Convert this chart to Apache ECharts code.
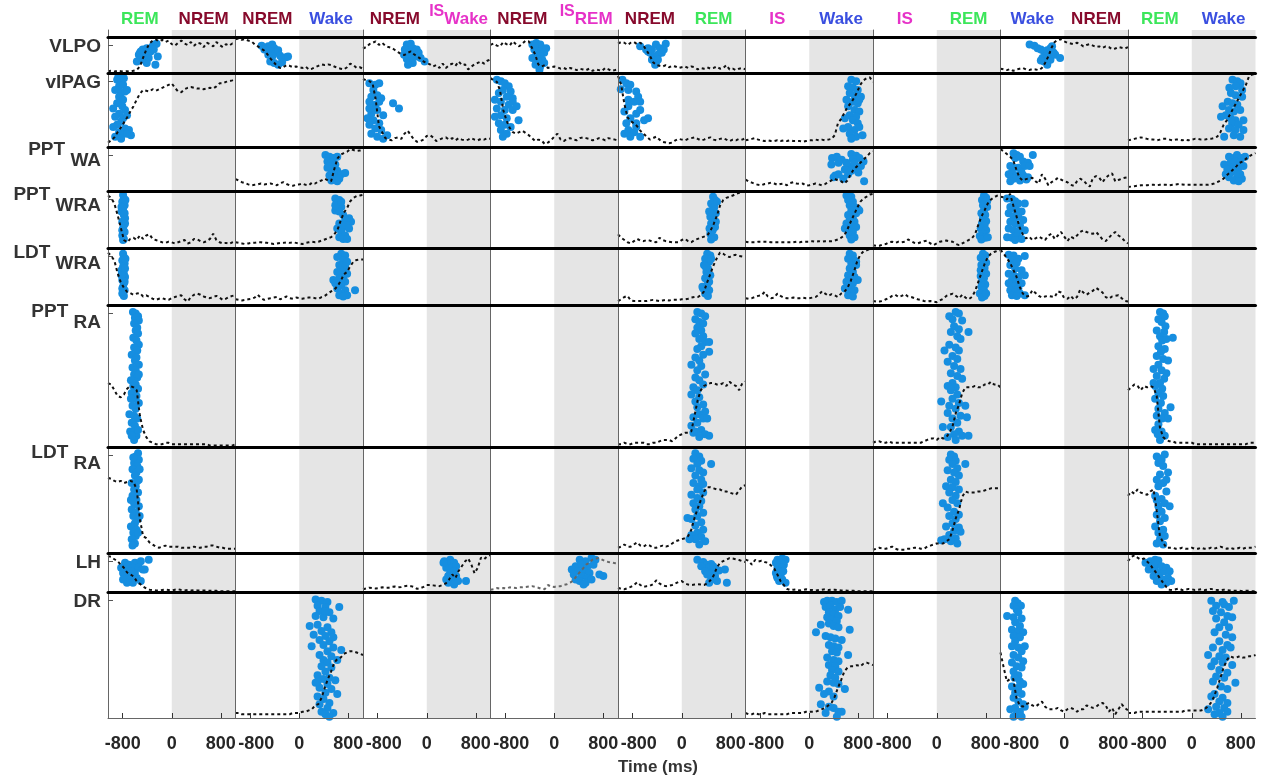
<!DOCTYPE html>
<html><head><meta charset="utf-8">
<script src="https://cdn.jsdelivr.net/npm/echarts@6/dist/echarts.min.js"></script>
<style>html,body{margin:0;padding:0;background:#fff}#c{width:1261px;height:778px}</style>
</head><body><div id="c"></div>
<script>
// ---------------- DATA ----------------
const TIME = [-1040,-988,-936,-884,-832,-780,-728,-676,-624,-572,-520,-468,-416,-364,-312,-260,-208,-156,-104,-52,0,52,104,156,208,260,312,364,416,468,520,572,624,676,728,780,832,884,936,988,1040];
const X_TICKS = [-800, 0, 800];
const ROW_NAMES = ['VLPO','vlPAG','PPTWA','PPTWRA','LDTWRA','PPTRA','LDTRA','LH','DR'];
const ROW_MAIN = ['VLPO','vlPAG','PPT','PPT','LDT','PPT','LDT','LH','DR'];
const ROW_SUB  = ['','','WA','WRA','WRA','RA','RA','',''];
const HEAD_LEFT  = ['REM','NREM','NREM','NREM','NREM','IS','IS','Wake','REM'];
const HEAD_RIGHT = ['NREM','Wake','Wake','REM','REM','Wake','REM','NREM','Wake'];
const HEAD_SUP   = ['','','IS','IS','','','','',''];

const L_VLPO_1 = [5,6,4,6,5,4,5,4,6,8,18,42,65,82,90,93,88,92,86,90,80,76,84,90,82,78,86,76,84,82,72,84,80,74,86,78,72,80,76,82,80];
const P_VLPO_1 = [[-569,32],[-537,51],[-505,60],[-473,65],[-441,46],[-408,69],[-376,42],[-344,60],[-312,74],[-280,79],[-248,81],[-293,65],[-267,23],[-408,28],[-228,46],[-486,37],[-460,56],[-518,56]];
const L_VLPO_2 = [94,96,92,94,90,88,80,74,68,62,52,40,30,20,14,16,22,20,16,18,16,14,18,10,12,16,20,24,22,24,22,18,14,12,10,16,26,22,14,16,12];
const P_VLPO_2 = [[-614,76],[-505,74],[-441,79],[-408,69],[-473,60],[-376,56],[-344,63],[-312,48],[-280,42],[-216,44],[-183,46],[-441,46],[-473,32],[-408,28],[-344,23],[-280,30],[-505,51],[-569,65]];
const L_VLPO_3 = [68,72,80,84,88,78,84,76,72,70,64,58,52,50,56,60,52,46,40,32,28,24,18,22,14,26,14,22,26,20,32,22,24,10,18,24,28,32,26,34,38];
const P_VLPO_3 = [[-325,79],[-261,81],[-293,74],[-228,69],[-357,65],[-196,60],[-164,65],[-293,56],[-370,51],[-325,39],[-261,32],[-228,28],[-306,23],[-100,42],[-35,32],[-164,46],[-241,48],[-132,56]];
const L_VLPO_4 = [78,82,76,74,86,80,76,88,80,74,82,90,88,70,52,24,18,22,14,16,18,16,12,14,10,14,12,8,12,10,8,12,6,10,8,6,14,10,6,8,10];
const P_VLPO_4 = [[-357,79],[-293,83],[-228,79],[-196,69],[-325,65],[-261,60],[-164,56],[-293,51],[-228,46],[-357,42],[-196,37],[-261,32],[-164,28],[-228,19],[-325,74],[-132,69],[-241,9],[-306,23]];
const L_VLPO_5 = [82,86,84,78,84,86,80,84,76,62,48,30,22,20,18,22,16,20,18,14,16,18,14,18,16,10,14,12,16,12,14,18,12,14,22,10,12,8,12,14,10];
const P_VLPO_5 = [[-679,74],[-550,69],[-486,65],[-421,79],[-261,81],[-357,69],[-518,56],[-453,46],[-389,51],[-325,56],[-486,37],[-421,28],[-550,60],[-389,37],[-293,65],[-582,65],[-434,23]];
const L_VLPO_8 = [12,10,8,11,6,10,12,14,10,8,11,10,8,14,28,46,70,86,92,94,88,84,82,80,84,80,74,78,80,76,72,74,70,74,72,66,68,72,70,68,72];
const P_VLPO_8 = [[-565,79],[-487,76],[-435,69],[-382,65],[-330,60],[-277,63],[-225,69],[-199,74],[-173,56],[-251,51],[-304,46],[-356,42],[-330,32],[-277,28],[-225,37],[-147,51],[-68,42],[-382,35],[-199,60],[-277,23]];

const L_vlPAG_1 = [6,9,13,20,26,33,40,48,55,64,72,77,76,75,78,76,78,80,82,84,86,80,75,74,78,80,81,80,79,79,78,79,80,79,82,86,86,88,89,90,92];
const P_vlPAG_1 = [[-891,91],[-826,89],[-859,82],[-794,84],[-923,77],[-826,73],[-762,75],[-859,68],[-794,64],[-730,77],[-891,59],[-807,55],[-955,52],[-762,50],[-859,45],[-923,41],[-794,39],[-730,43],[-826,34],[-891,30],[-955,27],[-762,25],[-698,23],[-859,20],[-794,18],[-666,16],[-923,14],[-826,11],[-730,18],[-871,95],[-781,93]];
const L_vlPAG_3 = [92,90,89,86,64,28,20,12,10,9,12,13,11,18,22,16,10,7,8,10,15,16,13,8,10,12,13,10,12,9,12,10,9,10,12,10,9,11,10,12,11];
const P_vlPAG_3 = [[-936,86],[-839,84],[-775,86],[-871,77],[-807,70],[-904,68],[-743,66],[-936,61],[-839,57],[-550,59],[-453,52],[-807,50],[-904,45],[-711,43],[-968,39],[-871,36],[-775,32],[-936,30],[-839,25],[-743,23],[-904,18],[-807,14],[-711,11],[-646,16],[-871,50],[-775,61],[-936,52]];
const L_vlPAG_4 = [93,90,88,76,50,36,26,20,18,20,22,19,16,12,8,10,9,4,6,9,14,18,10,8,11,12,10,9,12,13,12,11,9,10,12,11,9,12,11,10,9];
const P_vlPAG_4 = [[-936,91],[-871,89],[-807,86],[-743,82],[-839,77],[-711,75],[-904,73],[-775,68],[-678,66],[-871,61],[-743,57],[-936,52],[-807,50],[-678,50],[-871,43],[-968,41],[-775,39],[-582,36],[-904,32],[-807,30],[-711,27],[-871,23],[-775,18],[-839,14],[-968,64],[-678,61],[-614,55]];
const L_vlPAG_5 = [96,84,58,40,35,32,28,22,18,14,10,12,14,10,7,6,5,6,9,11,10,9,11,12,13,11,9,10,12,13,10,9,11,12,10,8,10,9,11,10,12];
const P_vlPAG_5 = [[-968,91],[-904,86],[-839,84],[-871,77],[-995,78],[-743,75],[-711,68],[-871,64],[-775,61],[-678,61],[-871,55],[-936,48],[-743,45],[-678,50],[-839,39],[-904,32],[-743,32],[-614,36],[-550,39],[-871,23],[-775,20],[-678,14],[-839,14],[-936,18],[-743,27]];
const L_vlPAG_6 = [9,10,11,12,10,9,8,9,8,8,9,8,9,8,9,8,8,8,7,8,9,9,10,9,10,9,10,11,16,32,38,46,54,59,66,74,84,90,93,94,88];
const P_vlPAG_6 = [[686,91],[765,89],[634,82],[712,80],[791,77],[660,73],[738,70],[843,68],[607,64],[712,61],[791,59],[634,55],[738,50],[817,48],[660,43],[765,41],[581,39],[712,36],[791,32],[634,27],[555,25],[738,23],[817,27],[660,18],[765,14],[869,16],[686,11],[817,64]];
const L_vlPAG_9 = [9,10,11,12,13,12,11,10,10,9,10,11,11,10,9,10,10,9,10,9,10,11,11,10,10,11,11,12,14,20,30,36,44,52,60,68,76,84,96,98,99];
const P_vlPAG_9 = [[665,91],[743,89],[796,86],[717,82],[613,80],[822,77],[639,73],[717,70],[822,68],[587,61],[665,59],[743,57],[503,55],[608,50],[686,48],[791,50],[555,43],[634,39],[712,36],[843,36],[660,32],[764,30],[608,25],[712,23],[843,23],[529,14],[686,16],[791,14],[477,41]];

const L_PPTWA_2 = [27,24,20,18,15,13,14,15,17,15,16,17,15,13,18,20,16,13,12,14,15,17,14,13,19,17,22,24,28,24,22,50,74,83,86,89,95,93,91,92,93];
const P_PPTWA_2 = [[427,82],[492,78],[556,75],[620,78],[460,67],[524,64],[588,60],[460,53],[524,49],[620,46],[556,42],[685,38],[749,41],[492,35],[588,31],[653,28],[524,24],[620,22],[479,57]];
const L_PPTWA_6 = [26,22,19,16,14,13,16,17,19,17,14,16,17,13,18,20,17,16,17,12,13,15,17,15,13,16,20,24,28,24,22,17,24,38,50,56,64,71,78,86,90];
const P_PPTWA_6 = [[372,75],[450,78],[361,60],[477,64],[529,71],[686,84],[765,80],[817,75],[712,72],[634,57],[738,53],[581,49],[686,46],[843,57],[885,67],[801,42],[634,38],[424,35],[477,38],[398,31],[555,28],[895,22],[607,64],[738,64]];
const L_PPTWA_8 = [95,90,84,78,70,48,30,24,27,29,30,22,17,38,28,13,20,24,30,26,22,20,14,12,22,28,24,16,10,30,34,30,20,30,36,40,22,25,28,30,31];
const P_PPTWA_8 = [[-827,86],[-775,82],[-801,75],[-723,78],[-670,67],[-592,64],[-513,82],[-880,57],[-827,53],[-749,53],[-644,57],[-696,42],[-853,42],[-906,38],[-775,35],[-670,35],[-592,31],[-827,28],[-723,24],[-618,26],[-880,22],[-565,57]];
const L_PPTWA_9 = [9,10,11,12,13,13,13,14,14,13,14,14,14,13,14,15,16,15,14,14,14,14,14,14,14,14,15,17,20,24,28,36,42,49,56,64,67,73,79,83,86];
const P_PPTWA_9 = [[608,78],[686,75],[738,82],[817,75],[869,78],[529,60],[634,64],[712,67],[791,64],[660,53],[765,53],[843,57],[555,38],[634,42],[712,46],[791,38],[608,31],[738,31],[817,28],[686,24],[765,22],[581,49]];

const L_PPTWRA_1 = [92,88,78,58,36,14,10,16,18,14,22,16,22,24,16,14,12,10,9,11,10,8,10,12,14,8,10,16,15,12,10,12,16,25,14,10,8,9,7,10,12];
const P_PPTWRA_1 = [[-794,93],[-781,87],[-807,81],[-769,75],[-794,69],[-820,64],[-781,58],[-762,52],[-807,46],[-781,40],[-794,34],[-769,28],[-807,22],[-781,16],[-794,14],[-756,84],[-820,72],[-769,61],[-807,31],[-762,43]];
const L_PPTWRA_2 = [10,9,8,7,8,9,9,10,10,9,9,8,7,8,9,9,10,9,10,9,8,7,9,10,11,10,11,13,15,17,19,24,32,48,62,70,82,88,91,92,93];
const P_PPTWRA_2 = [[588,87],[653,84],[620,78],[685,72],[588,66],[653,64],[717,58],[813,52],[749,49],[845,46],[653,43],[781,40],[717,37],[620,34],[813,34],[685,28],[749,22],[653,19],[717,16],[781,16],[588,75],[685,81]];
const L_PPTWRA_5 = [24,18,14,10,8,12,16,13,12,14,13,11,10,18,14,12,11,10,10,10,14,16,12,10,14,16,18,20,22,30,42,56,74,84,88,90,92,95,97,99,99];
const P_PPTWRA_5 = [[511,90],[543,84],[479,78],[530,72],[492,66],[556,61],[466,55],[517,49],[479,43],[543,37],[505,31],[466,25],[530,19],[479,15],[575,81],[447,64],[556,46],[453,34]];
const L_PPTWRA_6 = [11,10,10,10,11,11,11,11,10,10,10,10,10,10,10,10,11,10,11,11,11,12,11,12,11,12,12,12,13,15,18,22,33,46,58,70,81,87,90,94,95];
const P_PPTWRA_6 = [[607,92],[686,90],[634,84],[712,81],[660,75],[738,72],[791,69],[686,66],[765,61],[634,58],[712,55],[660,49],[738,46],[607,43],[686,40],[765,37],[634,31],[712,28],[581,34],[660,22],[738,19],[686,15],[817,66]];
const L_PPTWRA_7 = [5,4,4,6,7,10,11,9,11,10,11,15,12,9,8,10,12,13,8,5,8,11,12,13,12,11,7,5,8,11,14,17,24,40,55,66,78,85,89,92,94];
const P_PPTWRA_7 = [[770,92],[806,88],[738,84],[791,80],[754,75],[822,72],[770,66],[728,61],[791,58],[754,52],[806,47],[738,43],[780,39],[717,34],[806,31],[754,25],[702,21],[791,18],[728,15],[833,19],[822,82]];
const L_PPTWRA_8 = [90,89,85,95,75,56,36,24,17,20,14,17,20,17,14,22,25,16,22,28,20,12,20,17,22,28,31,28,26,25,28,22,15,12,18,24,28,22,18,12,8];
const P_PPTWRA_8 = [[-932,87],[-853,86],[-801,82],[-749,78],[-644,78],[-880,72],[-827,69],[-775,66],[-696,64],[-906,61],[-827,55],[-749,55],[-670,49],[-880,46],[-801,43],[-723,40],[-906,34],[-827,31],[-749,28],[-644,31],[-932,19],[-853,18],[-775,21],[-696,16],[-801,14]];

const L_LDTWRA_1 = [92,86,78,56,40,30,23,21,18,20,21,15,17,14,11,9,11,12,10,9,12,14,16,17,10,6,14,18,20,18,15,13,12,14,16,13,9,11,14,16,17];
const P_LDTWRA_1 = [[-794,90],[-781,84],[-807,78],[-769,73],[-794,67],[-820,61],[-781,55],[-762,49],[-807,44],[-781,38],[-794,32],[-769,26],[-807,20],[-781,16],[-756,81],[-820,52],[-769,41],[-807,29],[-762,64],[-794,23]];
const L_LDTWRA_2 = [10,9,8,9,10,11,13,18,12,9,11,12,13,14,10,12,15,12,11,13,12,11,12,13,13,12,11,14,16,20,24,27,33,42,54,58,68,76,79,80,80];
const P_LDTWRA_2 = [[685,90],[749,87],[620,84],[717,78],[781,76],[653,70],[749,67],[685,61],[620,58],[781,55],[717,49],[653,47],[556,44],[749,41],[685,35],[620,29],[749,26],[685,20],[781,17],[910,26],[653,17],[717,15],[588,38]];
const L_LDTWRA_5 = [7,10,14,16,8,7,7,7,7,7,8,9,8,7,8,9,8,9,9,9,10,10,11,13,14,14,17,24,40,55,70,82,92,90,86,84,87,88,86,85,84];
const P_LDTWRA_5 = [[415,90],[466,87],[382,81],[447,76],[363,70],[427,64],[402,58],[466,52],[382,47],[447,41],[415,35],[350,29],[447,26],[382,20],[427,16],[337,32],[479,81],[389,67]];
const L_LDTWRA_6 = [12,11,12,14,16,17,23,15,12,13,20,16,13,12,12,13,12,12,13,12,12,13,14,18,24,20,16,19,17,14,20,23,30,42,58,76,88,94,96,98,99];
const P_LDTWRA_6 = [[660,90],[712,87],[634,81],[738,78],[686,73],[765,70],[660,64],[712,58],[634,52],[738,49],[686,44],[791,44],[607,41],[712,38],[660,32],[581,29],[738,26],[686,22],[634,17],[712,15],[765,76]];
const L_LDTWRA_7 = [7,6,6,7,10,12,16,18,14,16,19,15,14,12,10,9,7,6,7,6,5,8,11,16,18,20,16,12,18,13,10,14,24,40,56,72,84,90,93,95,96];
const P_LDTWRA_7 = [[754,90],[791,87],[717,83],[770,78],[806,74],[728,70],[780,65],[754,59],[806,55],[717,51],[770,47],[738,41],[791,36],[728,32],[770,26],[702,20],[780,16],[738,13],[806,20],[717,61]];
const L_LDTWRA_8 = [97,90,82,74,62,50,32,20,15,16,26,21,16,13,15,16,15,14,24,22,12,11,16,10,14,27,22,18,22,25,30,26,22,14,11,15,16,17,12,7,6];
const P_LDTWRA_8 = [[-906,88],[-827,87],[-749,81],[-644,86],[-853,78],[-775,74],[-880,70],[-801,64],[-696,61],[-906,55],[-827,52],[-749,49],[-644,52],[-853,44],[-775,41],[-906,38],[-696,38],[-827,32],[-749,29],[-880,26],[-801,23],[-723,20],[-853,17],[-775,16],[-644,17]];

const L_PPTRA_1 = [45,44,40,36,35,37,41,43,42,40,22,12,7,4,3,2,2,2,3,3,2,2,2,2,2,2,2,2,2,2,2,2,1,1,1,1,1,1,1,1,2];
const P_PPTRA_1 = [[-633,95],[-588,94],[-550,92],[-601,91],[-537,89],[-614,87],[-563,84],[-588,82],[-550,80],[-627,77],[-576,75],[-537,72],[-614,70],[-563,68],[-653,65],[-576,63],[-601,61],[-537,58],[-640,56],[-588,54],[-614,51],[-563,49],[-666,47],[-588,44],[-627,43],[-550,41],[-653,38],[-576,36],[-614,34],[-537,31],[-640,29],[-588,27],[-691,23],[-614,22],[-563,20],[-653,17],[-601,15],[-678,11],[-627,10],[-576,8],[-614,5],[-653,8],[-550,12],[-666,34],[-537,51]];
const L_PPTRA_5 = [2,2,3,2,2,3,3,3,3,2,2,3,3,4,5,5,5,4,6,8,9,10,10,11,22,33,40,43,44,45,45,44,44,45,43,46,44,43,40,45,46];
const P_PPTRA_5 = [[254,95],[318,94],[382,92],[222,90],[286,88],[350,87],[254,84],[318,82],[222,80],[350,78],[286,76],[382,74],[447,67],[318,71],[254,69],[350,65],[222,63],[286,61],[157,58],[318,57],[254,54],[382,51],[222,49],[286,47],[350,44],[190,42],[254,40],[157,37],[286,35],[222,32],[350,30],[254,28],[382,25],[286,23],[190,21],[350,20],[254,17],[157,15],[318,12],[222,11],[382,9],[286,7],[447,8],[190,10],[415,20],[447,74]];
const L_PPTRA_7 = [3,4,4,3,3,4,3,3,3,3,3,3,3,3,3,3,4,5,6,6,5,7,6,7,10,15,24,30,38,42,42,42,43,42,42,44,44,46,44,44,42];
const P_PPTRA_7 = [[204,92],[309,95],[361,94],[257,90],[414,89],[518,81],[283,85],[361,83],[230,81],[335,78],[388,76],[204,72],[309,70],[361,68],[126,68],[257,64],[335,62],[178,60],[283,57],[388,55],[230,52],[335,50],[414,48],[257,45],[178,43],[309,42],[230,40],[335,37],[73,32],[257,34],[361,31],[204,29],[466,29],[309,27],[178,24],[388,22],[492,21],[257,20],[335,17],[100,14],[230,14],[361,11],[283,9],[414,8],[178,7],[518,8],[309,5]];
const L_PPTRA_9 = [40,42,44,43,40,43,42,43,42,36,14,7,5,4,4,3,3,3,3,3,3,2,2,2,2,2,2,2,2,2,2,2,2,2,2,2,2,2,3,3,3];
const P_PPTRA_9 = [[-518,95],[-466,94],[-440,92],[-544,90],[-492,88],[-429,85],[-571,82],[-450,81],[-518,78],[-309,77],[-482,75],[-544,71],[-440,69],[-503,67],[-571,64],[-466,62],[-387,61],[-544,58],[-623,55],[-492,54],[-414,52],[-571,50],[-450,48],[-518,45],[-597,43],[-482,41],[-544,38],[-466,36],[-597,34],[-503,31],[-346,28],[-544,27],[-440,24],[-571,22],[-482,20],[-387,20],[-544,16],[-597,12],[-492,11],[-555,9],[-440,8],[-518,5],[-623,45],[-414,76]];

const L_LDTRA_1 = [71,70,68,67,68,66,67,68,67,60,32,16,14,10,8,6,5,6,7,6,6,6,6,5,5,5,5,6,5,5,6,6,7,7,6,5,5,4,4,4,4];
const P_LDTRA_1 = [[-550,94],[-588,91],[-537,88],[-614,85],[-563,82],[-640,79],[-576,76],[-601,73],[-537,69],[-653,66],[-588,63],[-614,60],[-550,57],[-640,54],[-576,50],[-614,47],[-537,44],[-653,41],[-588,38],[-627,35],[-550,32],[-601,28],[-666,25],[-576,22],[-627,19],[-588,16],[-653,13],[-601,9],[-640,7],[-550,19],[-524,35],[-666,50],[-563,68],[-627,90],[-524,79]];
const L_LDTRA_5 = [5,6,8,6,6,8,10,7,6,8,7,5,5,6,7,6,7,9,11,12,13,14,16,22,33,42,50,58,62,62,61,60,60,58,58,57,56,55,59,63,64];
const P_LDTRA_5 = [[222,94],[286,91],[190,89],[318,87],[254,84],[157,80],[286,78],[350,76],[222,73],[318,69],[190,66],[286,63],[254,60],[350,57],[157,55],[254,52],[318,49],[190,47],[93,33],[286,44],[222,41],[350,38],[254,35],[157,32],[318,29],[222,26],[350,22],[254,19],[157,17],[318,15],[222,13],[382,11],[286,8],[125,13],[479,84],[350,65]];
const L_LDTRA_7 = [3,4,5,4,4,5,6,4,3,3,3,4,4,5,5,4,4,6,7,8,9,9,9,11,13,22,33,41,53,58,57,57,57,58,58,59,60,61,61,61,61];
const P_LDTRA_7 = [[230,93],[283,91],[204,88],[309,87],[466,84],[257,84],[335,80],[178,78],[283,76],[361,73],[230,69],[309,67],[152,63],[257,62],[361,60],[204,57],[309,54],[257,50],[100,47],[335,47],[178,43],[283,39],[361,36],[204,35],[309,32],[257,28],[152,25],[361,24],[283,21],[204,17],[126,13],[309,14],[230,11],[335,9],[73,12],[388,20]];
const L_LDTRA_9 = [54,58,56,60,57,56,55,58,60,40,16,10,5,5,5,4,4,5,4,4,5,4,4,5,4,4,5,4,5,6,5,4,5,4,4,5,4,5,5,5,6];
const P_LDTRA_9 = [[-571,91],[-503,89],[-440,93],[-544,85],[-466,82],[-387,76],[-518,74],[-571,69],[-466,66],[-544,63],[-414,58],[-597,54],[-492,51],[-440,47],[-544,44],[-361,44],[-492,39],[-571,36],[-440,33],[-518,30],[-597,25],[-466,22],[-544,19],[-440,16],[-518,13],[-571,9],[-466,8],[-492,88],[-414,69],[-571,50]];

const L_LH_1 = [92,90,84,79,70,62,50,45,40,28,21,14,9,6,5,4,4,5,6,5,4,6,7,5,4,5,4,5,4,4,4,4,3,3,3,2,2,2,2,2,2];
const P_LH_1 = [[-762,75],[-698,70],[-601,75],[-505,79],[-376,83],[-826,62],[-730,58],[-633,62],[-537,62],[-473,58],[-794,49],[-698,45],[-601,49],[-762,36],[-666,32],[-569,36],[-505,28],[-730,24],[-633,24],[-794,32],[-441,58],[-666,53]];
const L_LH_3 = [7,9,11,10,9,10,12,11,11,13,14,12,13,15,16,15,13,8,10,13,18,18,17,16,15,18,22,32,45,36,54,66,78,86,70,48,62,88,84,92,95];
const P_LH_3 = [[286,79],[382,83],[350,70],[447,75],[318,62],[415,62],[479,66],[382,49],[447,53],[350,41],[479,41],[318,32],[415,28],[350,24],[511,28],[640,28],[447,19],[273,75]];
const L_LH_4 = [6,7,10,9,10,9,12,11,10,12,12,13,14,15,13,11,8,7,18,14,13,15,15,18,20,24,30,41,51,60,70,75,83,86,87,83,79,77,76,74,73];
const P_LH_4 = [[415,83],[511,79],[608,87],[672,83],[350,66],[447,70],[543,66],[640,70],[286,58],[382,53],[479,53],[575,49],[736,45],[318,45],[447,41],[543,36],[415,28],[511,24],[608,32],[350,32],[479,19],[800,41]];
const L_LH_5 = [11,8,7,10,13,18,25,18,13,15,16,20,30,22,17,15,16,18,22,26,28,22,19,18,19,20,19,18,22,30,42,62,75,79,83,87,86,84,82,79,77];
const P_LH_5 = [[254,83],[350,77],[415,70],[479,72],[318,66],[447,62],[543,60],[382,53],[511,52],[608,55],[704,58],[415,45],[543,41],[479,32],[575,28],[447,24],[736,24],[511,66]];
const L_LH_6 = [83,80,70,82,78,80,77,75,68,60,45,28,18,8,5,6,7,4,5,7,5,5,4,5,6,7,5,6,6,5,4,4,3,3,3,2,2,2,2,2,2];
const P_LH_6 = [[-518,83],[-440,86],[-387,83],[-544,75],[-466,75],[-414,70],[-518,62],[-440,62],[-492,53],[-544,49],[-466,45],[-518,36],[-440,32],[-387,24],[-492,28],[-529,41],[-424,53]];
const L_LH_9 = [79,90,94,88,83,86,78,70,58,48,35,24,13,6,5,7,9,5,6,8,7,5,6,7,5,6,8,6,5,5,6,5,4,3,3,3,2,3,3,2,2];
const P_LH_9 = [[-754,75],[-675,79],[-597,83],[-544,81],[-649,66],[-571,70],[-492,66],[-414,62],[-702,58],[-597,53],[-518,49],[-440,53],[-361,53],[-623,41],[-544,36],[-466,32],[-387,36],[-335,28],[-571,28],[-492,19],[-414,24]];

const L_DR_2 = [4,4,3,3,3,3,3,3,3,3,3,3,3,3,3,3,3,3,4,4,4,5,5,6,7,10,11,16,24,31,37,44,47,48,51,52,53,53,52,51,50];
const P_DR_2 = [[267,94],[363,93],[460,92],[299,89],[427,88],[653,88],[331,85],[492,84],[267,81],[395,80],[556,79],[170,73],[299,74],[460,72],[363,69],[524,68],[235,66],[427,65],[331,62],[492,61],[202,57],[395,58],[556,56],[685,54],[460,53],[331,50],[524,49],[395,46],[620,46],[460,44],[363,41],[524,40],[427,37],[299,34],[492,32],[395,31],[588,30],[267,28],[460,27],[331,24],[524,23],[427,20],[299,17],[620,19],[395,15],[492,12],[331,11],[460,8],[363,5],[556,4],[427,3],[492,1],[427,85],[556,64],[299,29]];
const L_DR_6 = [4,3,3,4,3,3,4,3,3,3,3,3,3,3,4,4,4,4,4,5,5,5,5,6,7,8,10,12,17,24,30,37,40,41,41,42,41,43,44,43,42];
const P_DR_6 = [[241,92],[293,93],[372,93],[450,92],[529,93],[267,88],[346,89],[424,86],[503,88],[634,86],[320,84],[398,82],[477,81],[293,80],[372,78],[450,77],[189,74],[320,75],[398,73],[477,72],[660,70],[110,68],[267,65],[346,64],[424,63],[529,62],[320,58],[398,57],[477,56],[372,53],[450,52],[634,50],[293,48],[398,46],[477,45],[320,42],[424,41],[372,38],[477,37],[346,34],[424,32],[293,29],[398,28],[162,24],[477,27],[581,23],[320,21],[241,19],[398,17],[189,11],[320,9],[398,8],[477,5],[267,4],[450,1],[529,5]];
const L_DR_8 = [52,40,29,31,31,16,10,9,11,12,10,9,11,13,9,7,7,7,8,6,5,7,8,7,5,7,7,10,9,8,9,11,12,10,5,8,3,7,11,8,6];
const P_DR_8 = [[-801,93],[-759,91],[-827,89],[-707,89],[-775,86],[-932,81],[-749,84],[-827,80],[-696,79],[-801,76],[-723,73],[-853,70],[-749,69],[-670,68],[-827,65],[-723,64],[-801,61],[-644,57],[-853,57],[-749,56],[-696,53],[-827,50],[-749,48],[-670,45],[-853,44],[-775,41],[-696,40],[-827,37],[-749,34],[-812,32],[-723,29],[-670,27],[-853,25],[-749,24],[-801,20],[-696,19],[-827,16],[-749,13],[-670,11],[-801,8],[-880,7],[-723,5],[-775,3],[-696,1],[-827,1],[-644,9]];
const L_DR_9 = [4,4,4,5,5,5,5,5,5,5,5,5,5,5,5,5,5,5,6,6,6,6,6,6,7,9,12,17,24,32,40,46,49,48,48,49,48,48,49,49,50];
const P_DR_9 = [[319,93],[503,92],[686,93],[398,89],[529,90],[607,88],[346,85],[477,84],[581,81],[660,80],[398,79],[529,76],[450,72],[607,72],[372,68],[555,66],[660,64],[450,61],[581,58],[346,56],[503,54],[634,56],[267,50],[450,49],[555,48],[372,45],[503,44],[660,42],[319,41],[450,38],[581,36],[398,33],[529,32],[712,28],[346,29],[477,25],[581,23],[372,19],[503,16],[319,17],[450,13],[581,12],[398,9],[529,8],[267,7],[450,4],[581,5],[503,1],[372,3]];

const CELLS = {
  VLPO_1:[L_VLPO_1,P_VLPO_1], VLPO_2:[L_VLPO_2,P_VLPO_2], VLPO_3:[L_VLPO_3,P_VLPO_3], VLPO_4:[L_VLPO_4,P_VLPO_4], VLPO_5:[L_VLPO_5,P_VLPO_5], VLPO_8:[L_VLPO_8,P_VLPO_8],
  vlPAG_1:[L_vlPAG_1,P_vlPAG_1], vlPAG_3:[L_vlPAG_3,P_vlPAG_3], vlPAG_4:[L_vlPAG_4,P_vlPAG_4], vlPAG_5:[L_vlPAG_5,P_vlPAG_5], vlPAG_6:[L_vlPAG_6,P_vlPAG_6], vlPAG_9:[L_vlPAG_9,P_vlPAG_9],
  PPTWA_2:[L_PPTWA_2,P_PPTWA_2], PPTWA_6:[L_PPTWA_6,P_PPTWA_6], PPTWA_8:[L_PPTWA_8,P_PPTWA_8], PPTWA_9:[L_PPTWA_9,P_PPTWA_9],
  PPTWRA_1:[L_PPTWRA_1,P_PPTWRA_1], PPTWRA_2:[L_PPTWRA_2,P_PPTWRA_2], PPTWRA_5:[L_PPTWRA_5,P_PPTWRA_5], PPTWRA_6:[L_PPTWRA_6,P_PPTWRA_6], PPTWRA_7:[L_PPTWRA_7,P_PPTWRA_7], PPTWRA_8:[L_PPTWRA_8,P_PPTWRA_8],
  LDTWRA_1:[L_LDTWRA_1,P_LDTWRA_1], LDTWRA_2:[L_LDTWRA_2,P_LDTWRA_2], LDTWRA_5:[L_LDTWRA_5,P_LDTWRA_5], LDTWRA_6:[L_LDTWRA_6,P_LDTWRA_6], LDTWRA_7:[L_LDTWRA_7,P_LDTWRA_7], LDTWRA_8:[L_LDTWRA_8,P_LDTWRA_8],
  PPTRA_1:[L_PPTRA_1,P_PPTRA_1], PPTRA_5:[L_PPTRA_5,P_PPTRA_5], PPTRA_7:[L_PPTRA_7,P_PPTRA_7], PPTRA_9:[L_PPTRA_9,P_PPTRA_9],
  LDTRA_1:[L_LDTRA_1,P_LDTRA_1], LDTRA_5:[L_LDTRA_5,P_LDTRA_5], LDTRA_7:[L_LDTRA_7,P_LDTRA_7], LDTRA_9:[L_LDTRA_9,P_LDTRA_9],
  LH_1:[L_LH_1,P_LH_1], LH_3:[L_LH_3,P_LH_3], LH_4:[L_LH_4,P_LH_4], LH_5:[L_LH_5,P_LH_5], LH_6:[L_LH_6,P_LH_6], LH_9:[L_LH_9,P_LH_9],
  DR_2:[L_DR_2,P_DR_2], DR_6:[L_DR_6,P_DR_6], DR_8:[L_DR_8,P_DR_8], DR_9:[L_DR_9,P_DR_9]
};
const GREY_LINE_CELLS = ['LH_4'];

// ---------------- LAYOUT / STYLE ----------------
const FONT = '"Liberation Sans", Arial, Helvetica, sans-serif';
const STATE_COLOR = { REM:'#3ce65a', NREM:'#870a2c', Wake:'#3a4fe0', IS:'#e632c8' };
const X_MIN = -1040, X_MAX = 1040;
const X0 = 108, COL_W = 127.5;
const ROW_TOPS = [37,73,147,191,248,305,447,553,592];
const PLOT_BOTTOM = 718;
const HEADER_TOP = 30;
const LABEL_CY = [47,83,150,195,253,312,453,563,602];
const DOT_COLOR = '#168ee0';
const TICK_TXT = { fontSize:18, fontWeight:'bold', color:'#262626', fontFamily: FONT };

const grid=[], xAxis=[], yAxis=[], series=[];

function addCell(r, c, top, h, isHeader) {
  const gi = grid.length;
  grid.push({ left: X0 + c*COL_W, top: top, width: COL_W, height: h, containLabel:false, outerBoundsMode:'none' });
  const xi = xAxis.length;
  xAxis.push({ gridIndex: gi, type:'value', min:X_MIN, max:X_MAX, position:'top', z:6,
    axisLine:{ show: !isHeader, onZero:false, lineStyle:{ color:'#000', width:3 } },
    axisTick:{show:false}, axisLabel:{show:false}, splitLine:{show:false} });
  if (!isHeader && r === ROW_TOPS.length-1) {
    xAxis.push({ gridIndex: gi, type:'value', min:X_MIN, max:X_MAX, position:'bottom', z:6,
      axisLine:{ onZero:false, lineStyle:{ color:'#666', width:1 } },
      axisTick:{ show:true, inside:true, length:5, customValues: X_TICKS, lineStyle:{color:'#333'} },
      axisLabel:Object.assign({ show:true, customValues: X_TICKS, margin:17,
        formatter: (v) => (v < 0 && c > 0) ? '{n|' + v + '}' : String(v),
        rich:{ n: Object.assign({ padding:[0,0,0,12] }, TICK_TXT) } }, TICK_TXT),
      splitLine:{show:false} });
  }
  const yi = yAxis.length;
  yAxis.push({ gridIndex: gi, type:'value', min:0, max:100, z:6,
    axisLine:{ show:true, onZero:false, lineStyle:{ color:'#666', width:1 } },
    axisTick: (c===0 && !isHeader) ? { show:true, inside:true, length:5, customValues:[100*(1-8/h)], lineStyle:{color:'#555'} } : {show:false},
    axisLabel:{show:false}, splitLine:{show:false} });

  const key = isHeader ? null : ROW_NAMES[r] + '_' + (c+1);
  const cell = key ? CELLS[key] : null;
  series.push({ type:'scatter', xAxisIndex: xi, yAxisIndex: yi, data: cell ? cell[1] : [],
    symbol:'circle', symbolSize:8, itemStyle:{ color: DOT_COLOR, opacity:1 }, clip:false, silent:true, z:2,
    markArea:{ silent:true, itemStyle:{ color:'#e5e5e5', opacity:1 }, data:[[{xAxis:0},{xAxis:X_MAX}]] } });
  if (cell) {
    const grey = GREY_LINE_CELLS.indexOf(key) >= 0;
    series.push({ type:'line', xAxisIndex: xi, yAxisIndex: yi,
      data: TIME.map((t,i)=>[t, cell[0][i]]), symbol:'none', showSymbol:false, silent:true, z:3,
      lineStyle:{ color: grey ? '#666' : '#111', width:2, type:[3,3] } });
  }
}

for (let c=0;c<9;c++) addCell(-1, c, HEADER_TOP, ROW_TOPS[0]-HEADER_TOP, true);
for (let r=0;r<ROW_TOPS.length;r++) {
  const top = ROW_TOPS[r];
  const bottom = r < ROW_TOPS.length-1 ? ROW_TOPS[r+1] : PLOT_BOTTOM;
  for (let c=0;c<9;c++) addCell(r, c, top, bottom-top, false);
}

const graphic = [];
for (let c=0;c<9;c++) {
  const L = X0 + c*COL_W;
  graphic.push({ type:'text', x: L + COL_W*0.25, y: 19, silent:true,
    style:{ text: HEAD_LEFT[c], fill: STATE_COLOR[HEAD_LEFT[c]], fontSize:17, fontWeight:'bold', fontFamily: FONT, align:'center', verticalAlign:'middle' } });
  if (HEAD_SUP[c]) {
    graphic.push({ type:'text', x: L + COL_W*0.75, y: 4, silent:true,
      style:{ text: '{sup|' + HEAD_SUP[c] + '}{m|' + HEAD_RIGHT[c] + '}', align:'center', verticalAlign:'top',
        rich:{ sup:{ fill: STATE_COLOR.IS, fontSize:16, fontWeight:'bold', fontFamily: FONT, lineHeight:16, verticalAlign:'top' },
               m:{ fill: STATE_COLOR.IS, fontSize:17, fontWeight:'bold', fontFamily: FONT, lineHeight:30 } } } });
  } else {
    graphic.push({ type:'text', x: L + COL_W*0.75, y: 19, silent:true,
      style:{ text: HEAD_RIGHT[c], fill: STATE_COLOR[HEAD_RIGHT[c]], fontSize:17, fontWeight:'bold', fontFamily: FONT, align:'center', verticalAlign:'middle' } });
  }
}
for (let r=0;r<ROW_MAIN.length;r++) {
  const txt = ROW_SUB[r] ? '{m|' + ROW_MAIN[r] + ' }{s|' + ROW_SUB[r] + '}' : '{m|' + ROW_MAIN[r] + '}';
  graphic.push({ type:'text', x: 101, y: LABEL_CY[r] - 10, silent:true,
    style:{ text: txt, align:'right', verticalAlign:'top',
      rich:{ m:{ fill:'#333', fontSize:19, fontWeight:'bold', fontFamily: FONT, lineHeight:20, verticalAlign:'top' },
             s:{ fill:'#333', fontSize:19, fontWeight:'bold', fontFamily: FONT, lineHeight:42 } } } });
}
graphic.push({ type:'text', x: 658, y: 767, silent:true,
  style:{ text:'Time (ms)', fill:'#333', fontSize:17, fontWeight:'bold', fontFamily: FONT, align:'center', verticalAlign:'middle' } });

const chart = echarts.init(document.getElementById('c'), null, { renderer:'canvas' });
chart.setOption({ animation:false, backgroundColor:'#fff', grid, xAxis, yAxis, series, graphic });
</script></body></html>
